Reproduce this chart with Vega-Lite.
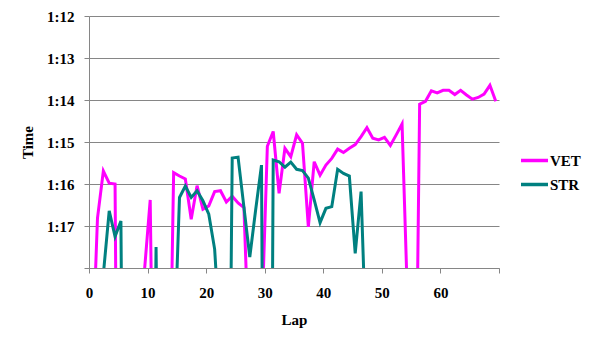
{
  "$schema": "https://vega.github.io/schema/vega-lite/v6.json",
  "width": 410,
  "height": 252,
  "autosize": "none",
  "padding": {"left": 89, "top": 16, "right": 98, "bottom": 80},
  "background": "white",
  "config": {"view": {"stroke": null}, "font": "Liberation Serif"},
  "data": {"values": [
    {"driver": "VET", "lap": 1, "time": 80.6},
    {"driver": "VET", "lap": 2, "time": 76.81},
    {"driver": "VET", "lap": 3, "time": 75.69},
    {"driver": "VET", "lap": 4, "time": 75.98},
    {"driver": "VET", "lap": 5, "time": 76.0},
    {"driver": "VET", "lap": 6, "time": 95},
    {"driver": "VET", "lap": 7, "time": 90},
    {"driver": "VET", "lap": 8, "time": 88},
    {"driver": "VET", "lap": 9, "time": 85},
    {"driver": "VET", "lap": 10, "time": 78.1},
    {"driver": "VET", "lap": 11, "time": 76.38},
    {"driver": "VET", "lap": 12, "time": 87},
    {"driver": "VET", "lap": 13, "time": 86},
    {"driver": "VET", "lap": 14, "time": 84},
    {"driver": "VET", "lap": 15, "time": 75.73},
    {"driver": "VET", "lap": 16, "time": 75.81},
    {"driver": "VET", "lap": 17, "time": 75.88},
    {"driver": "VET", "lap": 18, "time": 76.84},
    {"driver": "VET", "lap": 19, "time": 76.04},
    {"driver": "VET", "lap": 20, "time": 76.6},
    {"driver": "VET", "lap": 21, "time": 76.52},
    {"driver": "VET", "lap": 22, "time": 76.18},
    {"driver": "VET", "lap": 23, "time": 76.16},
    {"driver": "VET", "lap": 24, "time": 76.43},
    {"driver": "VET", "lap": 25, "time": 76.29},
    {"driver": "VET", "lap": 26, "time": 76.45},
    {"driver": "VET", "lap": 27, "time": 76.56},
    {"driver": "VET", "lap": 28, "time": 80.5},
    {"driver": "VET", "lap": 29, "time": 82},
    {"driver": "VET", "lap": 30, "time": 79.5},
    {"driver": "VET", "lap": 31, "time": 75.1},
    {"driver": "VET", "lap": 32, "time": 74.75},
    {"driver": "VET", "lap": 33, "time": 76.22},
    {"driver": "VET", "lap": 34, "time": 75.15},
    {"driver": "VET", "lap": 35, "time": 75.35},
    {"driver": "VET", "lap": 36, "time": 74.83},
    {"driver": "VET", "lap": 37, "time": 75.03},
    {"driver": "VET", "lap": 38, "time": 77.02},
    {"driver": "VET", "lap": 39, "time": 75.47},
    {"driver": "VET", "lap": 40, "time": 75.79},
    {"driver": "VET", "lap": 41, "time": 75.55},
    {"driver": "VET", "lap": 42, "time": 75.39},
    {"driver": "VET", "lap": 43, "time": 75.17},
    {"driver": "VET", "lap": 44, "time": 75.25},
    {"driver": "VET", "lap": 45, "time": 75.15},
    {"driver": "VET", "lap": 46, "time": 75.06},
    {"driver": "VET", "lap": 47, "time": 74.87},
    {"driver": "VET", "lap": 48, "time": 74.66},
    {"driver": "VET", "lap": 49, "time": 74.91},
    {"driver": "VET", "lap": 50, "time": 74.95},
    {"driver": "VET", "lap": 51, "time": 74.89},
    {"driver": "VET", "lap": 52, "time": 75.08},
    {"driver": "VET", "lap": 53, "time": 74.83},
    {"driver": "VET", "lap": 54, "time": 74.57},
    {"driver": "VET", "lap": 55, "time": 79.1},
    {"driver": "VET", "lap": 56, "time": 86},
    {"driver": "VET", "lap": 57, "time": 74.1},
    {"driver": "VET", "lap": 58, "time": 74.03},
    {"driver": "VET", "lap": 59, "time": 73.78},
    {"driver": "VET", "lap": 60, "time": 73.83},
    {"driver": "VET", "lap": 61, "time": 73.77},
    {"driver": "VET", "lap": 62, "time": 73.77},
    {"driver": "VET", "lap": 63, "time": 73.87},
    {"driver": "VET", "lap": 64, "time": 73.77},
    {"driver": "VET", "lap": 65, "time": 73.88},
    {"driver": "VET", "lap": 66, "time": 73.98},
    {"driver": "VET", "lap": 67, "time": 73.94},
    {"driver": "VET", "lap": 68, "time": 73.86},
    {"driver": "VET", "lap": 69, "time": 73.65},
    {"driver": "VET", "lap": 70, "time": 74.03},
    {"driver": "STR", "lap": 1, "time": 85},
    {"driver": "STR", "lap": 2, "time": 82},
    {"driver": "STR", "lap": 3, "time": 78.15},
    {"driver": "STR", "lap": 4, "time": 76.64},
    {"driver": "STR", "lap": 5, "time": 77.25},
    {"driver": "STR", "lap": 6, "time": 76.88},
    {"driver": "STR", "lap": 7, "time": 95},
    {"driver": "STR", "lap": 8, "time": 90},
    {"driver": "STR", "lap": 9, "time": 88},
    {"driver": "STR", "lap": 10, "time": 86},
    {"driver": "STR", "lap": 11, "time": 90},
    {"driver": "STR", "lap": 12, "time": 77.5},
    {"driver": "STR", "lap": 13, "time": 90},
    {"driver": "STR", "lap": 14, "time": 86},
    {"driver": "STR", "lap": 15, "time": 80.4},
    {"driver": "STR", "lap": 16, "time": 76.32},
    {"driver": "STR", "lap": 17, "time": 76.05},
    {"driver": "STR", "lap": 18, "time": 76.32},
    {"driver": "STR", "lap": 19, "time": 76.16},
    {"driver": "STR", "lap": 20, "time": 76.4},
    {"driver": "STR", "lap": 21, "time": 76.72},
    {"driver": "STR", "lap": 22, "time": 77.55},
    {"driver": "STR", "lap": 23, "time": 79.8},
    {"driver": "STR", "lap": 24, "time": 90},
    {"driver": "STR", "lap": 25, "time": 75.38},
    {"driver": "STR", "lap": 26, "time": 75.36},
    {"driver": "STR", "lap": 27, "time": 76.55},
    {"driver": "STR", "lap": 28, "time": 77.74},
    {"driver": "STR", "lap": 29, "time": 76.62},
    {"driver": "STR", "lap": 30, "time": 75.55},
    {"driver": "STR", "lap": 31, "time": 100},
    {"driver": "STR", "lap": 32, "time": 75.43},
    {"driver": "STR", "lap": 33, "time": 75.47},
    {"driver": "STR", "lap": 34, "time": 75.6},
    {"driver": "STR", "lap": 35, "time": 75.48},
    {"driver": "STR", "lap": 36, "time": 75.65},
    {"driver": "STR", "lap": 37, "time": 75.68},
    {"driver": "STR", "lap": 38, "time": 75.86},
    {"driver": "STR", "lap": 39, "time": 76.38},
    {"driver": "STR", "lap": 40, "time": 76.92},
    {"driver": "STR", "lap": 41, "time": 76.58},
    {"driver": "STR", "lap": 42, "time": 76.54},
    {"driver": "STR", "lap": 43, "time": 75.65},
    {"driver": "STR", "lap": 44, "time": 75.75},
    {"driver": "STR", "lap": 45, "time": 75.81},
    {"driver": "STR", "lap": 46, "time": 77.65},
    {"driver": "STR", "lap": 47, "time": 76.18},
    {"driver": "STR", "lap": 48, "time": 80.4}
  ]},
  "mark": {"type": "line", "clip": true, "strokeWidth": 3},
  "encoding": {
    "x": {
      "field": "lap", "type": "quantitative",
      "scale": {"domain": [0.55, 70.55], "nice": false, "zero": false},
      "axis": {
        "values": [0.55, 10.55, 20.55, 30.55, 40.55, 50.55, 60.55, 70.55],
        "labelExpr": "datum.value > 70 ? '' : format(round(datum.value - 0.55), 'd')",
        "grid": false,
        "domainColor": "#868686", "tickColor": "#868686", "tickSize": 5,
        "labelFont": "Liberation Serif", "labelFontSize": 15, "labelFontWeight": "bold", "labelColor": "black",
        "labelPadding": 12, "labelDx": 2, "labelFlush": false, "labelOverlap": false,
        "title": "Lap", "titleFont": "Liberation Serif", "titleFontSize": 15, "titleFontWeight": "bold", "titleColor": "black", "titlePadding": 12
      }
    },
    "y": {
      "field": "time", "type": "quantitative",
      "scale": {"domain": [72, 78], "reverse": true, "nice": false, "zero": false},
      "axis": {
        "values": [72, 73, 74, 75, 76, 77, 78],
        "labelExpr": "datum.value == 78 ? '' : floor(datum.value / 60) + ':' + format(datum.value % 60, '02d')",
        "grid": true, "gridColor": "#868686", "gridWidth": 1,
        "domainColor": "#868686", "tickColor": "#868686", "tickSize": 5,
        "labelFont": "Liberation Serif", "labelFontSize": 15, "labelFontWeight": "bold", "labelColor": "black",
        "labelPadding": 10, "labelFlush": false, "labelOverlap": false,
        "title": "Time", "titleFont": "Liberation Serif", "titleFontSize": 15, "titleFontWeight": "bold", "titleColor": "black", "titlePadding": 11
      }
    },
    "color": {
      "field": "driver", "type": "nominal",
      "scale": {"domain": ["VET", "STR"], "range": ["#FF00FF", "#008080"]},
      "legend": {
        "title": null, "orient": "none", "legendX": 430, "legendY": 129,
        "symbolType": "stroke", "symbolSize": 729, "symbolStrokeWidth": 3.5,
        "labelFont": "Liberation Serif", "labelFontSize": 15, "labelFontWeight": "bold", "labelColor": "black",
        "labelOffset": 0, "rowPadding": 0, "padding": 0
      }
    }
  }
}
